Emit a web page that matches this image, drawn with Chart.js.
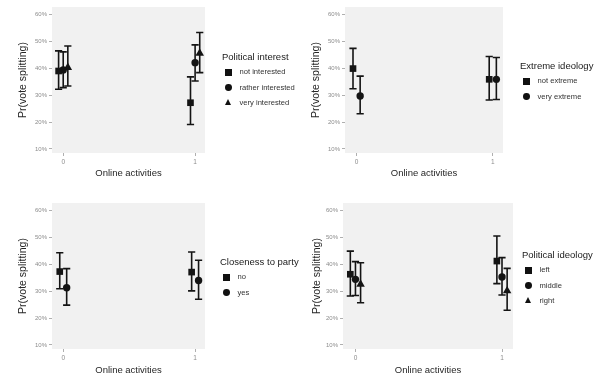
<!DOCTYPE html>
<html>
<head>
<meta charset="utf-8">
<script src="https://cdn.jsdelivr.net/npm/chart.js@4.4.0/dist/chart.umd.min.js"></script>
<style>
  html, body { margin: 0; padding: 0; background: #fff; }
  body { width: 600px; height: 376px; position: relative; overflow: hidden;
         font-family: "Liberation Sans", Arial, sans-serif; }
  canvas { position: absolute; }
  .lg-title { position: absolute; font-size: 9.5px; color: #1a1a1a; white-space: nowrap; line-height: 1; }
  .lg-label { position: absolute; font-size: 7.6px; color: #333; white-space: nowrap; line-height: 1; }
  .lg-sym { position: absolute; background: #111; }
  .lg-sym.circle { border-radius: 50%; }
  .lg-sym.triangle { background: none; width: 0; height: 0;
                     border-left: 3.8px solid transparent; border-right: 3.8px solid transparent;
                     border-bottom: 6.6px solid #111; }
</style>
</head>
<body>
<script>
// --- data ---
const onlineActivities = [0, 1];
const yTicks = [10, 20, 30, 40, 50, 60];

const interestLevels = ["not interested", "rather interested", "very interested"];
const interestEst  = [[39.0, 27.2], [39.4, 42.1], [40.3, 45.6]];
const interestLow  = [[32.2, 19.1], [32.8, 35.3], [33.4, 38.4]];
const interestHigh = [[46.5, 36.8], [46.1, 48.7], [48.3, 53.3]];

const extremeLevels = ["not extreme", "very extreme"];
const extremeEst  = [[39.9, 35.9], [29.7, 35.9]];
const extremeLow  = [[32.4, 28.2], [23.1, 28.4]];
const extremeHigh = [[47.4, 44.4], [37.1, 44.0]];

const closeLevels = ["no", "yes"];
const closeEst  = [[37.3, 37.1], [31.3, 34.0]];
const closeLow  = [[30.9, 30.1], [24.8, 27.0]];
const closeHigh = [[44.3, 44.6], [38.4, 41.5]];

const ideologyLevels = ["left", "middle", "right"];
const ideologyEst  = [[36.3, 41.2], [34.4, 35.3], [32.6, 30.1]];
const ideologyLow  = [[28.2, 32.8], [28.4, 28.6], [25.7, 22.9]];
const ideologyHigh = [[44.9, 50.5], [41.0, 42.5], [40.6, 38.5]];

// --- look ---
const INK = "#141414";
const SHAPES = ["rect", "circle", "triangle"];
const RADII = { rect: 4.7, circle: 3.7, triangle: 4.9 };
const DODGE = 0.105;
const CAP = 3.6;

const PANELS = [
  { title: "Political interest", levels: interestLevels, est: interestEst, low: interestLow, high: interestHigh,
    left: 0, top: 0, padTop: 7, padRight: 95, yW: 52, xH: 35, yTitleC: 23, xTitleOff: 15, lgX: 222, lgY: 57 },
  { title: "Extreme ideology", levels: extremeLevels, est: extremeEst, low: extremeLow, high: extremeHigh,
    left: 300, top: 0, padTop: 7, padRight: 97, yW: 45, xH: 35, yTitleC: 16, xTitleOff: 15, lgX: 520, lgY: 66 },
  { title: "Closeness to party", levels: closeLevels, est: closeEst, low: closeLow, high: closeHigh,
    left: 0, top: 188, padTop: 15, padRight: 95, yW: 52, xH: 27, yTitleC: 23, xTitleOff: 6, lgX: 220, lgY: 262 },
  { title: "Political ideology", levels: ideologyLevels, est: ideologyEst, low: ideologyLow, high: ideologyHigh,
    left: 300, top: 188, padTop: 15, padRight: 87, yW: 43, xH: 27, yTitleC: 17, xTitleOff: 6, lgX: 522, lgY: 255 }
];

const panelBg = {
  id: "panelBg",
  beforeDraw(chart) {
    const { ctx, chartArea: a } = chart;
    ctx.save();
    ctx.fillStyle = "#f1f1f1";
    ctx.fillRect(a.left, a.top, a.right - a.left, a.bottom - a.top);
    ctx.restore();
  }
};

const errorBars = {
  id: "errorBars",
  beforeDatasetsDraw(chart) {
    const { ctx } = chart;
    const y = chart.scales.y;
    ctx.save();
    ctx.strokeStyle = INK;
    ctx.lineWidth = 1.6;
    chart.data.datasets.forEach((ds, di) => {
      chart.getDatasetMeta(di).data.forEach((pt, i) => {
        const top = y.getPixelForValue(ds.high[i]);
        const bot = y.getPixelForValue(ds.low[i]);
        ctx.beginPath();
        ctx.moveTo(pt.x, top); ctx.lineTo(pt.x, bot);
        ctx.moveTo(pt.x - CAP, top); ctx.lineTo(pt.x + CAP, top);
        ctx.moveTo(pt.x - CAP, bot); ctx.lineTo(pt.x + CAP, bot);
        ctx.stroke();
      });
    });
    ctx.restore();
  }
};

function buildLegend(p) {
  const t = document.createElement("div");
  t.className = "lg-title";
  t.textContent = p.title;
  t.style.left = p.lgX + "px";
  t.style.top = (p.lgY - 5) + "px";
  document.body.appendChild(t);

  p.levels.forEach((name, i) => {
    const cy = p.lgY + 15.4 * (i + 1);
    const shape = SHAPES[i];
    const s = document.createElement("div");
    s.className = "lg-sym " + shape;
    if (shape === "triangle") {
      s.style.left = (p.lgX + 6.5 - 3.8) + "px";
      s.style.top = (cy - 3.8) + "px";
    } else {
      const d = shape === "rect" ? 6.5 : 6.8;
      s.style.width = d + "px"; s.style.height = d + "px";
      s.style.left = (p.lgX + 6.5 - d / 2) + "px";
      s.style.top = (cy - d / 2) + "px";
    }
    document.body.appendChild(s);

    const l = document.createElement("div");
    l.className = "lg-label";
    l.textContent = name;
    l.style.left = (p.lgX + 17.5) + "px";
    l.style.top = (cy - 4) + "px";
    document.body.appendChild(l);
  });
}

function buildPanel(p) {
  const canvas = document.createElement("canvas");
  canvas.width = 300; canvas.height = 188;
  canvas.style.left = p.left + "px";
  canvas.style.top = p.top + "px";
  document.body.appendChild(canvas);

  const n = p.levels.length;
  const datasets = p.levels.map((name, i) => {
    const off = (i - (n - 1) / 2) * DODGE / n;
    const shape = SHAPES[i];
    return {
      label: name,
      data: onlineActivities.map((x, j) => ({ x: x + off, y: p.est[i][j] })),
      low: p.low[i],
      high: p.high[i],
      pointStyle: shape,
      pointRadius: RADII[shape],
      pointHoverRadius: RADII[shape],
      backgroundColor: INK,
      borderColor: INK,
      borderWidth: 0,
      showLine: false
    };
  });

  new Chart(canvas, {
    type: "scatter",
    data: { datasets },
    plugins: [panelBg, errorBars],
    options: {
      responsive: false,
      animation: false,
      layout: { padding: { top: p.padTop, right: p.padRight, left: 0, bottom: 0 } },
      plugins: { legend: { display: false }, tooltip: { enabled: false } },
      scales: {
        x: {
          type: "linear",
          min: -0.085, max: 1.075,
          afterBuildTicks: s => { s.ticks = onlineActivities.map(v => ({ value: v })); },
          afterFit: s => { s.height = p.xH; },
          grid: { display: true, drawOnChartArea: false, drawTicks: true, tickLength: 3, color: "#9a9a9a", lineWidth: 0.8 },
          border: { display: false },
          ticks: { color: "#8c8c8c", font: { size: 6.5, family: "Liberation Sans" }, padding: 2, maxRotation: 0 },
          title: { display: true, text: "Online activities", color: "#262626",
                   font: { size: 9.5, family: "Liberation Sans" }, padding: { top: 0, bottom: p.xTitleOff - 5.7 } }
        },
        y: {
          min: 8.5, max: 62.8,
          afterBuildTicks: s => { s.ticks = yTicks.map(v => ({ value: v })); },
          afterFit: s => { s.width = p.yW; },
          grid: { display: true, drawOnChartArea: false, drawTicks: true, tickLength: 3, color: "#9a9a9a", lineWidth: 0.8 },
          border: { display: false },
          ticks: { color: "#8c8c8c", font: { size: 6, family: "Liberation Sans" }, padding: 2,
                   callback: v => v + "%" },
          title: { display: true, text: "Pr(vote splitting)", color: "#262626",
                   font: { size: 10.5, family: "Liberation Sans" }, padding: { top: p.yTitleC - 6.3, bottom: 0 } }
        }
      }
    }
  });

  buildLegend(p);
}

PANELS.forEach(buildPanel);
</script>
</body>
</html>
